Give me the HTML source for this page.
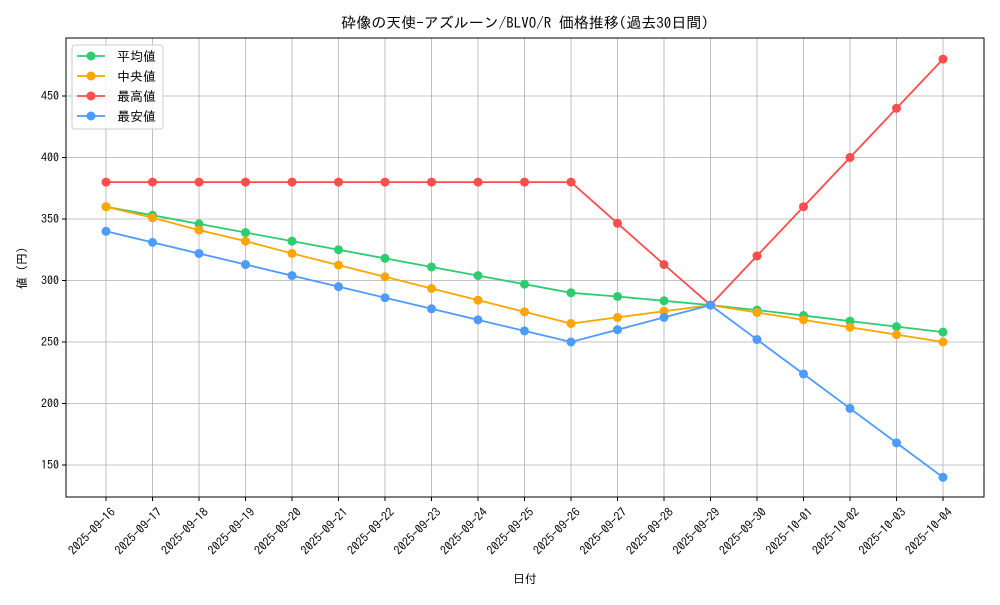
<!DOCTYPE html>
<html><head><meta charset="utf-8"><style>
body{margin:0;background:#fff;}
svg text{font-family:"IPAGothic","Noto Sans CJK JP",monospace;fill:#000;}
</style></head><body>
<svg id="s" width="1000" height="600" xmlns="http://www.w3.org/2000/svg"></svg>
<script>
const s=document.getElementById('s');
let h='';
const L=66,R=984,T=38,B=497;
const X=i=>106+i*46.5, Y=v=>465-(v-150)*1.23;
const dates=['2025-09-16','2025-09-17','2025-09-18','2025-09-19','2025-09-20','2025-09-21','2025-09-22','2025-09-23','2025-09-24','2025-09-25','2025-09-26','2025-09-27','2025-09-28','2025-09-29','2025-09-30','2025-10-01','2025-10-02','2025-10-03','2025-10-04'];
dates.forEach((d,i)=>{const x=X(i);h+=`<line x1="${x}" y1="${T}" x2="${x}" y2="${B}" stroke="#b0b0b0" stroke-width="0.8"/><line x1="${x}" y1="${B}" x2="${x}" y2="${B+4}" stroke="#000"/>`;
h+=`<text transform="translate(${x+4},${B+10}) rotate(-45)" text-anchor="end" font-size="12" dy="0.7em">${d}</text>`;});
[150,200,250,300,350,400,450].forEach(v=>{const y=Y(v);h+=`<line x1="${L}" y1="${y}" x2="${R}" y2="${y}" stroke="#b0b0b0" stroke-width="0.8"/><line x1="${L-4}" y1="${y}" x2="${L}" y2="${y}" stroke="#000"/><text x="${L-7}" y="${y+4}" text-anchor="end" font-size="12">${v}</text>`;});
const series=[
['#2ecc71',[360,353,346,339,332,325,318,311,304,297,290,287,283.5,280,276,271.5,267,262.5,258]],
['#ffa500',[360,351,341,332,322,312.5,303,293.5,284,274.5,265,270,275,280,274,268,262,256,250]],
['#ff4c4c',[380,380,380,380,380,380,380,380,380,380,380,346.5,313,280,320,360,400,440,480]],
['#4c9cff',[340,331,322,313,304,295,286,277,268,259,250,260,270,280,252,224,196,168,140]]];
series.forEach(([c,d])=>{h+=`<polyline fill="none" stroke="${c}" stroke-width="1.8" points="${d.map((v,i)=>X(i)+','+Y(v)).join(' ')}"/>`;d.forEach((v,i)=>h+=`<circle cx="${X(i)}" cy="${Y(v)}" r="4.5" fill="${c}"/>`);});
h+=`<rect x="${L}" y="${T}" width="${R-L}" height="${B-T}" fill="none" stroke="#000" stroke-width="1"/>`;
h+=`<rect x="72" y="45" width="91" height="84" rx="3" fill="#fff" fill-opacity="0.8" stroke="#ccc"/>`;
['平均値','中央値','最高値','最安値'].forEach((t,i)=>{const y=56+i*20;const c=series[i][0];h+=`<line x1="77" y1="${y}" x2="105" y2="${y}" stroke="${c}" stroke-width="1.8"/><circle cx="91" cy="${y}" r="4.5" fill="${c}"/><text x="117" y="${y+5}" font-size="13">${t}</text>`;});
h+=`<text x="525" y="28" text-anchor="middle" font-size="15">砕像の天使-アズルーン/BLVO/R 価格推移(過去30日間)</text>`;
h+=`<text x="525" y="583" text-anchor="middle" font-size="12">日付</text>`;
h+=`<text transform="translate(26,268) rotate(-90)" text-anchor="middle" font-size="12">値 (円)</text>`;
s.innerHTML=h;
</script>
</body></html>
